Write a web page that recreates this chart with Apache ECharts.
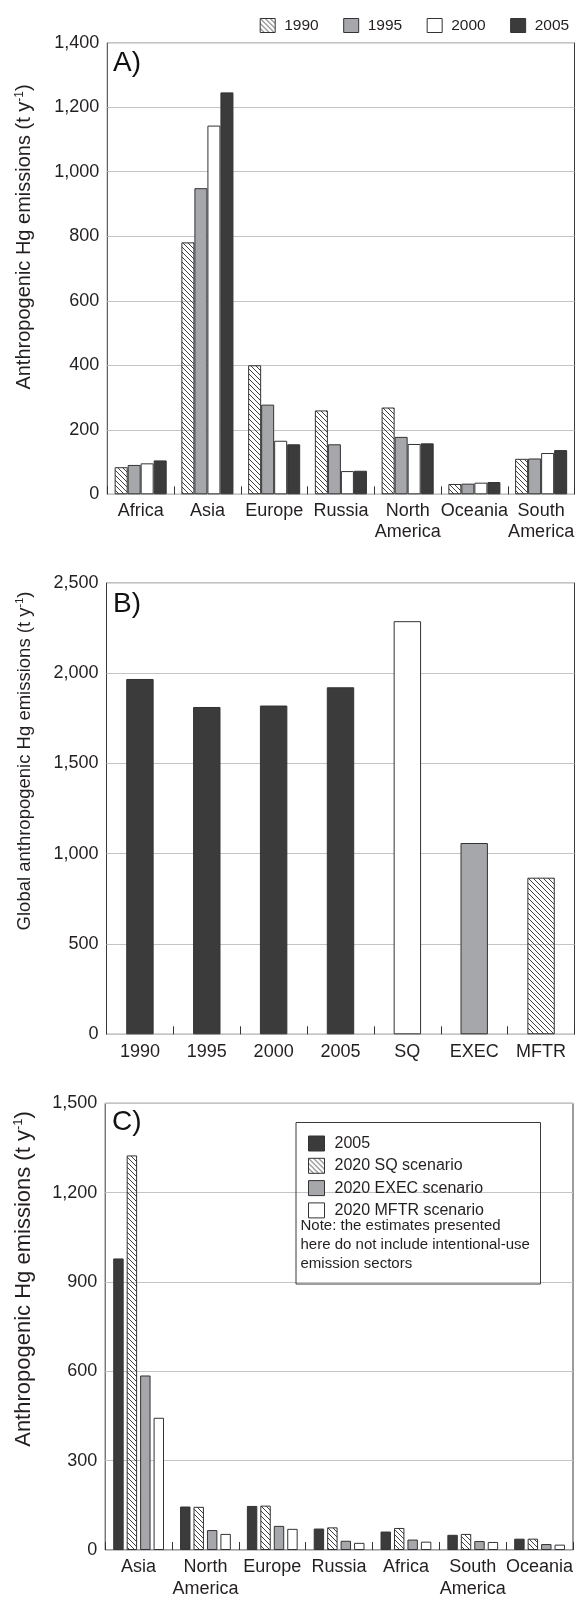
<!DOCTYPE html>
<html>
<head>
<meta charset="utf-8">
<script src="https://cdn.jsdelivr.net/npm/echarts@6/dist/echarts.min.js"></script>
<style>
html,body{margin:0;padding:0;background:#fff;}
#chart{width:580px;height:1600px;}
</style>
</head>
<body>
<div id="chart"></div>
<script>
// ---------- data ----------
const regionsA = ['Africa', 'Asia', 'Europe', 'Russia', 'North\nAmerica', 'Oceania', 'South\nAmerica'];
const a1990 = [84, 781, 400, 260, 269, 32, 110];
const a1995 = [91, 949, 278, 155, 178, 33, 111];
const a2000 = [96, 1143, 166, 72, 156, 36, 128];
const a2005 = [105, 1246, 155, 73, 158, 38, 137];
const ticksA = {min: 0, max: 1400, interval: 200};

const catsB = ['1990', '1995', '2000', '2005', 'SQ', 'EXEC', 'MFTR'];
const valuesB = [1967, 1812, 1820, 1921, 2287, 1059, 867];
const fillB = ['dark', 'dark', 'dark', 'dark', 'white', 'gray', 'hatch'];
const ticksB = {min: 0, max: 2500, interval: 500};

const regionsC = ['Asia', 'North\nAmerica', 'Europe', 'Russia', 'Africa', 'South\nAmerica', 'Oceania'];
const c2005 = [979, 146, 148, 72, 62, 51, 38];
const cSQ = [1325, 145, 149, 76, 74, 54, 38];
const cEXEC = [586, 67, 81, 31, 35, 30, 20];
const cMFTR = [444, 54, 71, 24, 28, 27, 18];
const ticksC = {min: 0, max: 1500, interval: 300};

const legendA = ['1990', '1995', '2000', '2005'];
const legendC = ['2005', '2020 SQ scenario', '2020 EXEC scenario', '2020 MFTR scenario'];
const noteC = 'Note: the estimates presented\nhere do not include intentional-use\nemission sectors';

// ---------- styles ----------
const FONT = "'Liberation Sans', Arial, Helvetica, sans-serif";
const TXT = '#231f20';
const EDGE = '#333333';
function hatchCanvas() {
  const c = document.createElement('canvas');
  c.width = 5; c.height = 5;
  const g = c.getContext('2d');
  g.strokeStyle = '#2a2a2a'; g.lineWidth = 0.9;
  g.beginPath();
  g.moveTo(-1, -1); g.lineTo(6, 6);
  g.moveTo(-1, 4); g.lineTo(1, 6);
  g.moveTo(4, -1); g.lineTo(6, 1);
  g.stroke();
  return c;
}
const FILLS = {
  dark: '#3b3b3b',
  gray: '#a6a7aa',
  white: '#ffffff',
  hatch: {image: hatchCanvas(), repeat: 'repeat'}
};
function itemStyle(kind) {
  return {color: FILLS[kind], borderColor: EDGE, borderWidth: 1};
}
const fmt = v => Number(v).toLocaleString('en-US');

function xAxis(gridIndex, data, fontSize, lineHeight, margin) {
  return {
    type: 'category', gridIndex, data,
    axisLine: {show: false},
    axisTick: {show: true, inside: true, length: 8, lineStyle: {color: EDGE, width: 1}},
    axisLabel: {color: TXT, fontFamily: FONT, fontSize, lineHeight, margin, interval: 0}
  };
}
function yAxis(gridIndex, t, fontSize, margin) {
  return {
    type: 'value', gridIndex, min: t.min, max: t.max, interval: t.interval,
    axisLine: {show: false}, axisTick: {show: false},
    splitLine: {show: true, lineStyle: {color: '#c4c4c4', width: 1}},
    axisLabel: {color: TXT, fontFamily: FONT, fontSize, margin, formatter: fmt}
  };
}
function vTitle(x, y, text, size) {
  return {
    type: 'text', x, y, rotation: Math.PI / 2,
    style: {
      text: '{b|' + text + ' (t y}{s|-1}{b|)}',
      align: 'center', verticalAlign: 'middle',
      rich: {
        b: {fontFamily: FONT, fontSize: size, fill: TXT, lineHeight: size + 2},
        s: {fontFamily: FONT, fontSize: Math.round(size * 0.6), fill: TXT, verticalAlign: 'top'}
      }
    }
  };
}
function panelLabel(x, y, text, size) {
  return {type: 'text', x, y, style: {text, fontFamily: FONT, fontSize: size, fill: '#111', align: 'left', verticalAlign: 'middle'}};
}

const option = {
  animation: false,
  backgroundColor: '#ffffff',
  grid: [
    {left: 107.3, top: 42.7, width: 467.2, height: 451.6, show: true, borderColor: '#3a3a3a', borderWidth: 1},
    {left: 106.5, top: 582.7, width: 468, height: 451.6, show: true, borderColor: '#3a3a3a', borderWidth: 1},
    {left: 105.2, top: 1103.3, width: 467.8, height: 451, show: true, borderColor: '#3a3a3a', borderWidth: 1}
  ],
  xAxis: [
    xAxis(0, regionsA, 18, 21, 6),
    xAxis(1, catsB, 18, 21, 7),
    xAxis(2, regionsC, 18, 22, 6)
  ],
  yAxis: [
    yAxis(0, ticksA, 18, 8),
    yAxis(1, ticksB, 18, 8),
    yAxis(2, ticksC, 18, 8)
  ],
  legend: [
    {
      data: legendA, orient: 'horizontal', left: 259.7, top: 17.5, padding: 0,
      itemWidth: 15, itemHeight: 14, itemGap: 24.5, icon: 'rect',
      itemStyle: {borderColor: EDGE, borderWidth: 1},
      selectedMode: false,
      textStyle: {fontFamily: FONT, fontSize: 15.5, color: TXT, padding: [0, 0, 0, 4]}
    },
    {
      data: legendC, orient: 'vertical', left: 308, top: 1135.5, padding: 0,
      itemWidth: 16, itemHeight: 15, itemGap: 6.3, icon: 'rect',
      itemStyle: {borderColor: EDGE, borderWidth: 1},
      selectedMode: false,
      textStyle: {fontFamily: FONT, fontSize: 16, color: TXT, padding: [0, 0, 0, 5]}
    }
  ],
  graphic: [
    vTitle(24.5, 237, 'Anthropogenic Hg emissions', 20),
    vTitle(25, 761, 'Global anthropogenic Hg emissions', 18.5),
    vTitle(24, 1279, 'Anthropogenic Hg emissions', 22),
    panelLabel(113, 63.7, 'A)', 28),
    panelLabel(113, 604, 'B)', 28),
    panelLabel(112, 1122.5, 'C)', 28),
    {type: 'rect', shape: {x: 296, y: 1122.5, width: 244.5, height: 161.5},
     style: {fill: 'none', stroke: '#3a3a3a', lineWidth: 1}, z: 10},
    {type: 'text', x: 300.5, y: 1216, z: 11,
     style: {text: noteC, fontFamily: FONT, fontSize: 15, lineHeight: 19.3, fill: TXT, align: 'left', verticalAlign: 'top'}}
  ],
  series: [
    {name: '1990', type: 'bar', xAxisIndex: 0, yAxisIndex: 0, data: a1990, itemStyle: itemStyle('hatch'), barGap: 0, barCategoryGap: '22%'},
    {name: '1995', type: 'bar', xAxisIndex: 0, yAxisIndex: 0, data: a1995, itemStyle: itemStyle('gray'), barGap: 0, barCategoryGap: '22%'},
    {name: '2000', type: 'bar', xAxisIndex: 0, yAxisIndex: 0, data: a2000, itemStyle: itemStyle('white'), barGap: 0, barCategoryGap: '22%'},
    {name: '2005', type: 'bar', xAxisIndex: 0, yAxisIndex: 0, data: a2005, itemStyle: itemStyle('dark'), barGap: 0, barCategoryGap: '22%'},
    {name: 'global', type: 'bar', xAxisIndex: 1, yAxisIndex: 1, barCategoryGap: '59%',
     data: valuesB.map((v, i) => ({value: v, itemStyle: itemStyle(fillB[i])}))},
    {name: '2005', type: 'bar', xAxisIndex: 2, yAxisIndex: 2, data: c2005, itemStyle: itemStyle('dark'), barGap: '29%', barCategoryGap: '24%'},
    {name: '2020 SQ scenario', type: 'bar', xAxisIndex: 2, yAxisIndex: 2, data: cSQ, itemStyle: itemStyle('hatch'), barGap: '29%', barCategoryGap: '24%'},
    {name: '2020 EXEC scenario', type: 'bar', xAxisIndex: 2, yAxisIndex: 2, data: cEXEC, itemStyle: itemStyle('gray'), barGap: '29%', barCategoryGap: '24%'},
    {name: '2020 MFTR scenario', type: 'bar', xAxisIndex: 2, yAxisIndex: 2, data: cMFTR, itemStyle: itemStyle('white'), barGap: '29%', barCategoryGap: '24%'}
  ]
};

const chart = echarts.init(document.getElementById('chart'), null, {renderer: 'canvas'});
chart.setOption(option);
</script>
</body>
</html>
